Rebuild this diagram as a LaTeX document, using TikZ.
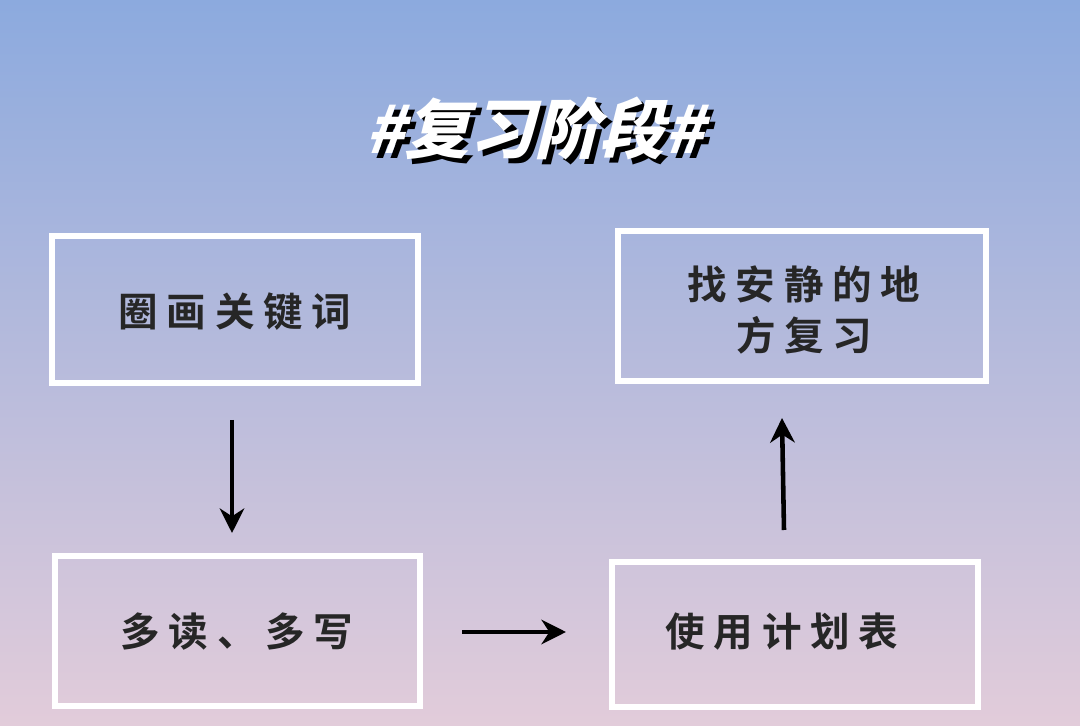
\documentclass[tikz,border=0pt]{standalone}
\usepackage{fontspec}
\newfontfamily\cjk[LetterSpace=22]{Noto Sans CJK SC Bold}
\newfontfamily\cjkt{Noto Sans CJK SC Black}
\usetikzlibrary{arrows.meta}
\definecolor{topc}{RGB}{140,170,222}
\definecolor{botc}{RGB}{226,204,218}
\tikzset{box/.style={draw=white,line width=3.6pt},
lbl/.style={font=\cjk\fontsize{22.5}{29}\selectfont,text=black!85,align=center},
arr/.style={line width=2.6pt,-{Stealth[length=14pt,width=14pt]}},
ttl/.style={font=\cjkt\fontsize{37}{37}\selectfont,xslant=0.25}}
\begin{document}
\begin{tikzpicture}[x=0.02cm,y=-0.02cm]
\shade[top color=topc,bottom color=botc] (0,0) rectangle (1080,726);
\useasboundingbox (0,0) rectangle (1080,726);
\node[ttl,text=black] (ts) at (546,133) {\#复习阶段\#};
\node[ttl,text=white] (t) at (541,128) {\#复习阶段\#};
\draw[box] (52,236) rectangle (418,383);
\node[lbl] (a) at (235,312) {圈画关键词};
\draw[box] (618,231) rectangle (986,381);
\node[lbl] (d) at (804,310) {找安静的地\\方复习};
\draw[box] (55,556) rectangle (420,706);
\node[lbl] (b) at (237,632) {多读、多写};
\draw[box] (612,562) rectangle (978,707);
\node[lbl] (c) at (782,632) {使用计划表};
\coordinate (a1) at (232,420); \coordinate (a2) at (232,533);
\coordinate (b1) at (462,632); \coordinate (b2) at (566,632);
\coordinate (c1) at (784,530); \coordinate (c2) at (782,418);
\draw[arr] (a1) -- (a2);
\draw[arr] (b1) -- (b2);
\draw[arr] (c1) -- (c2);
\end{tikzpicture}
\end{document}
